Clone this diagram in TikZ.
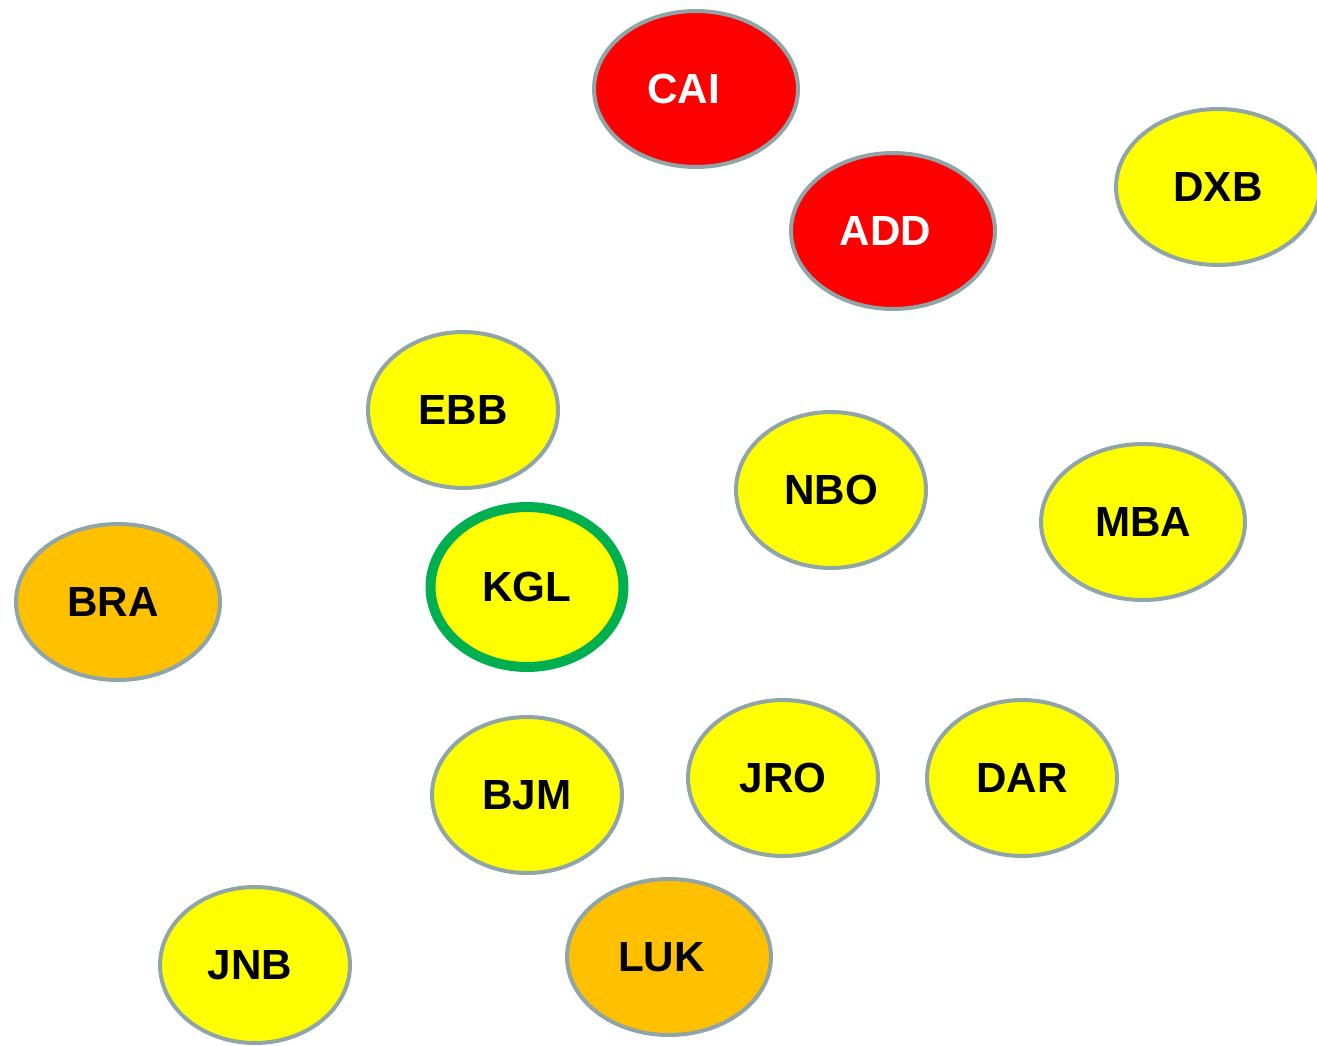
\documentclass[tikz,border=0pt]{standalone}
\usepackage{fontspec}
\setmainfont{Liberation Sans}
\usetikzlibrary{shapes.geometric}
\definecolor{rim}{RGB}{143,165,168}
\definecolor{kglgreen}{RGB}{0,176,80}
\definecolor{amber}{RGB}{255,192,0}
\definecolor{lemon}{RGB}{255,255,0}
\definecolor{hubred}{RGB}{255,0,0}

\begin{document}
\begin{tikzpicture}[x=0.02cm, y=-0.02cm,
  airport/.style={ellipse, draw=rim, line width=0.08cm, fill=lemon,
    minimum width=3.8cm, minimum height=3.12cm, inner sep=0pt,
    font=\fontsize{24}{28}\selectfont\bfseries},
  wide/.style={minimum width=4.08cm},
  hub/.style={fill=hubred, text=white},
  far/.style={fill=amber}]
\useasboundingbox (0,0) rectangle (1317,1045);

% Nœuds du haut
\node[airport, wide, hub] (CAI) at (696,89) {CAI\hspace*{0.5cm}};
\node[airport, wide, hub] (ADD) at (893,231) {ADD\hspace*{0.3cm}};
\node[airport, wide] (DXB) at (1218,187) {DXB};

% Niveau du milieu
\node[airport] (EBB) at (463,410) {EBB};
\node[airport] (NBO) at (831,490) {NBO};
\node[airport, wide] (MBA) at (1143,522) {MBA};
\node[airport, wide, far] (BRA) at (118,602) {BRA\hspace*{0.2cm}};
\node[airport, draw=kglgreen, line width=0.2cm,
  minimum width=3.86cm, minimum height=3.2cm] (KGL) at (527,587) {KGL};

% Niveau du bas
\node[airport] (BJM) at (527,795) {BJM};
\node[airport] (JRO) at (783,778) {JRO};
\node[airport] (DAR) at (1022,778) {DAR};
\node[airport] (JNB) at (255,965) {JNB\hspace*{0.2cm}};
\node[airport, wide, far] (LUK) at (669,957) {LUK\hspace*{0.3cm}};

\end{tikzpicture}
\end{document}
